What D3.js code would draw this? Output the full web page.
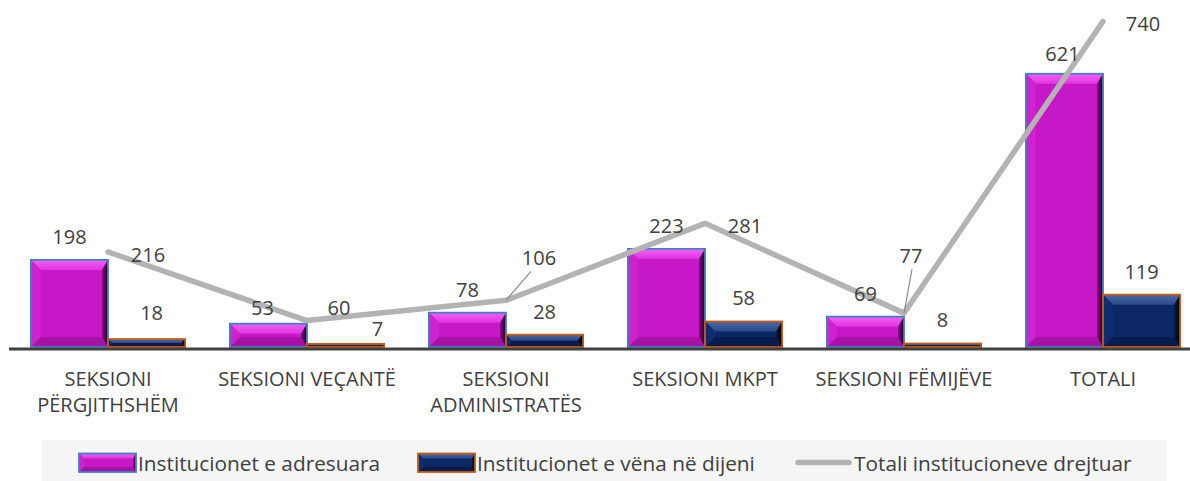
<!DOCTYPE html>
<html>
<head>
<meta charset="utf-8">
<script src="https://cdn.jsdelivr.net/npm/d3@7/dist/d3.min.js"></script>
<style>
  html, body { margin: 0; padding: 0; background: #ffffff; }
  svg { display: block; font-family: "Open Sans", sans-serif; }
</style>
</head>
<body>
<svg id="chart" width="1190" height="481"></svg>
<script>
// Categories and series
const categories = [
  "SEKSIONI PËRGJITHSHËM",
  "SEKSIONI VEÇANTË",
  "SEKSIONI ADMINISTRATËS",
  "SEKSIONI MKPT",
  "SEKSIONI FËMIJËVE",
  "TOTALI"
];
const adresuara = [198, 53, 78, 223, 69, 621];
const dijeni = [18, 7, 28, 58, 8, 119];
const totali = [216, 60, 106, 281, 77, 740];
const seriesNames = [
  "Institucionet e adresuara",
  "Institucionet e vëna në dijeni",
  "Totali institucioneve drejtuar"
];

const W = 1190, H = 481;
const baseY = 347;
const textColor = "#404040";
const fontSize = 20;
const legendFontSize = 20.8;

const svg = d3.select("#chart");

// Scales
const x0 = d3.scaleBand().domain(categories).range([8.5, 1202.5]).paddingInner(0).paddingOuter(0);
const x1 = d3.scaleBand().domain(["a", "d"]).range([0, x0.bandwidth()]).paddingInner(0).paddingOuter(0.29);
const y = d3.scaleLinear().domain([0, 800]).range([baseY, -5]);

// Bar palettes (bevelled look)
const palettes = {
  a: { base: "#c618c6", topA: "#f460f4", topB: "#e035e0", left: "#cd22cd", bottom: "#a612a6",
       rightA: "#8c0c8c", rightB: "#1c001c", border: "#3f80c0" },
  d: { base: "#0b2766", topA: "#4a69a4", topB: "#2a4a8c", left: "#0f2d72", bottom: "#081d4e",
       rightA: "#071a48", rightB: "#000000", border: "#c65b12" }
};

const defs = svg.append("defs");
Object.entries(palettes).forEach(([k, p]) => {
  const tg = defs.append("linearGradient").attr("id", "top-" + k).attr("x1", 0).attr("y1", 0).attr("x2", 0).attr("y2", 1);
  tg.append("stop").attr("offset", "0%").attr("stop-color", p.topA);
  tg.append("stop").attr("offset", "100%").attr("stop-color", p.topB);
  const rg = defs.append("linearGradient").attr("id", "right-" + k).attr("x1", 0).attr("y1", 0).attr("x2", 1).attr("y2", 0);
  rg.append("stop").attr("offset", "0%").attr("stop-color", p.rightA);
  rg.append("stop").attr("offset", "100%").attr("stop-color", p.rightB);
});

function bevel(g, x, yTop, w, h, key, bMax, borderW) {
  const p = palettes[key];
  const b = Math.min(bMax, h / 2, w / 2);
  const br = Math.min(bMax * 0.6, h / 2, w / 2);
  const pts = a => a.map(q => q.join(",")).join(" ");
  g.append("rect").attr("x", x).attr("y", yTop).attr("width", w).attr("height", h).attr("fill", p.base);
  g.append("polygon").attr("points", pts([[x, yTop], [x + w, yTop], [x + w - br, yTop + b], [x + b, yTop + b]]))
    .attr("fill", `url(#top-${key})`);
  g.append("polygon").attr("points", pts([[x, yTop + h], [x + w, yTop + h], [x + w - br, yTop + h - b], [x + b, yTop + h - b]]))
    .attr("fill", p.bottom);
  g.append("polygon").attr("points", pts([[x, yTop], [x + b, yTop + b], [x + b, yTop + h - b], [x, yTop + h]]))
    .attr("fill", p.left);
  g.append("polygon").attr("points", pts([[x + w, yTop], [x + w - br, yTop + b], [x + w - br, yTop + h - b], [x + w, yTop + h]]))
    .attr("fill", `url(#right-${key})`);
  g.append("rect").attr("x", x).attr("y", yTop).attr("width", w).attr("height", h)
    .attr("fill", "none").attr("stroke", p.border).attr("stroke-width", borderW);
}

// Bars
const barRows = categories.map((c, i) => [
  { cat: c, key: "a", value: adresuara[i] },
  { cat: c, key: "d", value: dijeni[i] }
]).flat();

svg.append("g").attr("class", "bars")
  .selectAll("g.bar")
  .data(barRows)
  .join("g")
  .attr("class", "bar")
  .each(function (d) {
    const bx = x0(d.cat) + x1(d.key);
    const top = y(d.value);
    bevel(d3.select(this), bx, top, x1.bandwidth(), baseY - top, d.key, 10, 1.8);
  });

// Category axis
const axis = svg.append("g")
  .attr("transform", `translate(0,${baseY + 1.5})`)
  .call(d3.axisBottom(x0).tickSize(0).tickSizeOuter(0).tickPadding(23));
axis.select(".domain").attr("stroke", "#404040").attr("stroke-width", 3);
axis.selectAll(".tick text")
  .attr("fill", textColor)
  .attr("font-size", fontSize)
  .attr("font-family", "'Open Sans', sans-serif")
  .each(function () {
    const t = d3.select(this);
    const words = t.text().split(" ");
    const maxW = x0.step() + 6;
    const yAttr = t.attr("y");
    t.text(null);
    let line = [], lines = [];
    const tsp = t.append("tspan");
    words.forEach(w => {
      line.push(w);
      tsp.text(line.join(" "));
      if (tsp.node().getComputedTextLength() > maxW && line.length > 1) {
        line.pop();
        lines.push(line.join(" "));
        line = [w];
      }
    });
    lines.push(line.join(" "));
    t.text(null).attr("dy", null);
    lines.forEach((l, k) => {
      t.append("tspan").attr("x", 0).attr("y", yAttr)
        .attr("dy", (0.71 * fontSize + k * 26) + "px").text(l);
    });
  });

// Total line
const cx = i => x0(categories[i]) + x0.bandwidth() / 2;
const line = d3.line().x((d, i) => cx(i)).y(d => y(d));
svg.append("path")
  .datum(totali)
  .attr("d", line)
  .attr("fill", "none")
  .attr("stroke", "#b3b3b3")
  .attr("stroke-width", 5.5)
  .attr("stroke-linejoin", "round")
  .attr("stroke-linecap", "round");

// Value labels
const labels = svg.append("g").attr("font-size", fontSize).attr("fill", textColor).attr("text-anchor", "middle");

// label nudges (dx, dy) for crowded spots
const barNudge = { "a-1": [-6, 7], "a-5": [-2, 3], "d-0": [5, -3], "d-1": [32, 8] };
labels.selectAll("text.bar-label")
  .data(barRows)
  .join("text")
  .attr("class", "bar-label")
  .attr("x", d => {
    const i = categories.indexOf(d.cat);
    const n = barNudge[d.key + "-" + i] || [0, 0];
    return x0(d.cat) + x1(d.key) + x1.bandwidth() / 2 + n[0];
  })
  .attr("y", d => {
    const i = categories.indexOf(d.cat);
    const n = barNudge[d.key + "-" + i] || [0, 0];
    return y(d.value) - 16 + n[1];
  })
  .text(d => d.value);

const lineNudge = { 1: [-8, -16], 2: [-7, -45], 4: [-33, -60] };
const lineLabels = totali.map((v, i) => {
  const n = lineNudge[i] || [0, 0];
  return { i, v, px: cx(i), py: y(v), lx: cx(i) + 40 + n[0], ly: y(v) + 10 + n[1], moved: n[1] < -30 };
});

// leader lines for labels pulled away from their point
svg.append("g").selectAll("line")
  .data(lineLabels.filter(d => d.moved))
  .join("line")
  .attr("x1", d => d.px).attr("y1", d => d.py)
  .attr("x2", d => d.i === 2 ? d.lx - 8 : d.lx + 1)
  .attr("y2", d => d.ly + 6)
  .attr("stroke", "#8c8c8c").attr("stroke-width", 1.2);

labels.selectAll("text.line-label")
  .data(lineLabels)
  .join("text")
  .attr("class", "line-label")
  .attr("x", d => d.lx)
  .attr("y", d => d.ly)
  .text(d => d.v);

// Legend
const legend = svg.append("g").attr("class", "legend");
legend.append("rect").attr("x", 42).attr("y", 440).attr("width", 1125).attr("height", 45).attr("fill", "#f5f5f5");
const legendX = [79, 418, 795];
seriesNames.forEach((name, k) => {
  const lx = legendX[k];
  const g = legend.append("g");
  if (k < 2) {
    bevel(g, lx, 453.5, 57, 18.5, k === 0 ? "a" : "d", 5, 1.8);
  } else {
    g.append("line").attr("x1", lx + 3).attr("x2", lx + 54).attr("y1", 462.5).attr("y2", 462.5)
      .attr("stroke", "#b3b3b3").attr("stroke-width", 5.5).attr("stroke-linecap", "round");
  }
  g.append("text").attr("x", lx + 59).attr("y", 470.5).attr("font-size", legendFontSize)
    .attr("fill", textColor).text(name);
});
</script>
</body>
</html>
